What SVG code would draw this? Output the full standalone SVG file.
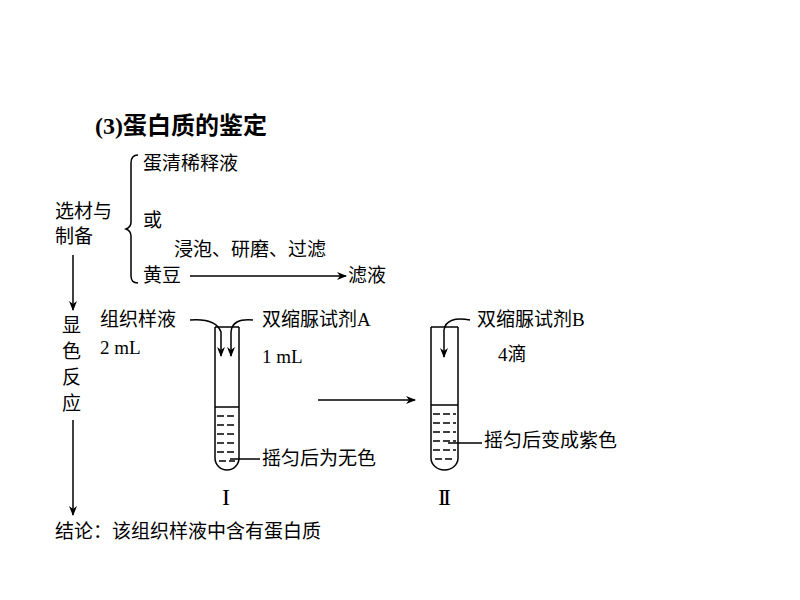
<svg xmlns="http://www.w3.org/2000/svg" width="800" height="600" viewBox="0 0 800 600">
<defs>
<marker id="ah" markerWidth="10" markerHeight="8" refX="9" refY="4" orient="auto" markerUnits="userSpaceOnUse"><path d="M0,0 L10,4 L0,8 L3,4 Z" fill="#000"/></marker>
</defs>
<style>
text{font-family:"Liberation Serif","Noto Sans CJK SC",serif;font-size:19px;fill:#000}
.t{font-size:24px;font-weight:bold}
.s{fill:none;stroke:#000;stroke-width:1.5}
.d{stroke:#000;stroke-width:1.5;stroke-dasharray:7,3}
.r{font-family:"Liberation Serif",serif;font-size:24px}
</style>
<rect width="800" height="600" fill="#fff"/>
<text class="t" x="95" y="134">(3)蛋白质的鉴定</text>
<g id="select">
<text x="55" y="218">选材与</text>
<text x="55" y="243">制备</text>
<path class="s" d="M138,155 Q131,155 131,163 L131,222 Q131,227 126,229 Q131,231 131,236 L131,276 Q131,283 138,283"/>
<text x="143" y="170">蛋清稀释液</text>
<text x="143" y="227">或</text>
<text x="174" y="256">浸泡、研磨、过滤</text>
<text x="143" y="282">黄豆</text>
<text x="348" y="282">滤液</text>
</g>
<g id="reaction">
<text x="62" y="332">显</text>
<text x="62" y="358">色</text>
<text x="62" y="384">反</text>
<text x="62" y="410">应</text>
</g>
<g id="tube1">
<path class="s" d="M215,327 L215,458 A12,12 0 0 0 239,458 L239,327"/>
<line class="s" x1="215" y1="327" x2="239" y2="327"/>
<line class="s" x1="215" y1="407" x2="239" y2="407"/>
<g class="d"><line x1="217" y1="416" x2="237" y2="416"/><line x1="217" y1="425" x2="237" y2="425"/><line x1="217" y1="434" x2="237" y2="434"/><line x1="217" y1="443" x2="237" y2="443"/><line x1="217" y1="452" x2="237" y2="452"/><line x1="219" y1="461" x2="235" y2="461"/></g>
<text x="100" y="326">组织样液</text>
<text x="100" y="354">2 mL</text>
<text x="262" y="326">双缩脲试剂A</text>
<text x="262" y="363">1 mL</text>
<text x="262" y="465">摇匀后为无色</text>
<text class="r" x="222" y="505">I</text>
</g>
<g id="tube2">
<path class="s" d="M431,327 L431,458 A13.5,12 0 0 0 458,458 L458,327"/>
<line class="s" x1="431" y1="327" x2="458" y2="327"/>
<line class="s" x1="431" y1="405" x2="458" y2="405"/>
<g class="d"><line x1="433" y1="414" x2="456" y2="414"/><line x1="433" y1="423" x2="456" y2="423"/><line x1="433" y1="432" x2="456" y2="432"/><line x1="433" y1="441" x2="456" y2="441"/><line x1="433" y1="450" x2="456" y2="450"/><line x1="435" y1="459" x2="454" y2="459"/></g>
<text x="477" y="326">双缩脲试剂B</text>
<text x="498" y="361">4滴</text>
<text x="484" y="447">摇匀后变成紫色</text>
<text class="r" x="438" y="505" style="letter-spacing:-3px">II</text>
</g>
<text x="55" y="538">结论：该组织样液中含有蛋白质</text>
<g id="connectors">
<line class="s" x1="190" y1="276" x2="346" y2="276" marker-end="url(#ah)"/>
<line class="s" x1="73" y1="255" x2="73" y2="310" marker-end="url(#ah)"/>
<line class="s" x1="73" y1="420" x2="73" y2="515" marker-end="url(#ah)"/>
<path class="s" d="M190,320 Q216,318 221,332 L221,356" marker-end="url(#ah)"/>
<path class="s" d="M253,320 Q232,318 231,332 L231,356" marker-end="url(#ah)"/>
<path class="s" d="M470,320 Q446,316 444,330 L444,357" marker-end="url(#ah)"/>
<line class="s" x1="318" y1="400" x2="415" y2="400" marker-end="url(#ah)"/>
<line class="s" x1="230" y1="459" x2="260" y2="459"/>
<line class="s" x1="448" y1="443" x2="482" y2="443"/>
</g>
</svg>
